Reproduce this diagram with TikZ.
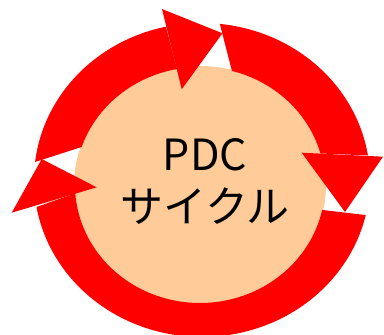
\documentclass[tikz,border=0pt]{standalone}
\usepackage{fontspec}
\newfontfamily\jpfont{Noto Sans CJK JP}
\definecolor{ringred}{RGB}{255,0,0}
\definecolor{peach}{RGB}{255,204,153}
\begin{document}
\begin{tikzpicture}[x=1pt,y=-1pt,
  redpart/.style={fill=ringred},
  label/.style={align=center,text=black,font=\jpfont\fontsize{43}{52}\selectfont,inner sep=0pt}]
\useasboundingbox (0,0) rectangle (384,335);
% inner disc
\fill[peach] (200,185) ellipse [x radius=126pt, y radius=119pt];
% arc A (upper left)
\fill[redpart] plot[domain=186.6:257.6, samples=60] ({202+168*cos(\x)},{180+157*sin(\x)})
  -- plot[domain=259.4:198.8, samples=60] ({200+125*cos(\x)},{185+118*sin(\x)}) -- cycle;
\fill[redpart] (162,9) -- (222.5,33.3) -- (181.7,89.3) -- cycle;
% arc B (upper right)
\fill[redpart] plot[domain=276.1:351, samples=60] ({202+168*cos(\x)},{180+157*sin(\x)})
  -- plot[domain=344.5:284.8, samples=60] ({200+125*cos(\x)},{185+118*sin(\x)}) -- cycle;
\fill[redpart] (301.7,152.7) -- (383,156.7) -- (345,212) -- cycle;
% arc C (bottom)
\fill[redpart] plot[domain=12.9:170.1, samples=80] ({202+168*cos(\x)},{180+157*sin(\x)})
  -- plot[domain=176:12.2, samples=80] ({200+125*cos(\x)},{185+118*sin(\x)}) -- cycle;
\fill[redpart] (11.7,212.7) -- (96.7,187.3) -- (41.7,159) -- cycle;
% text
\node[label] (title) at (205,181) {PDC\\サイクル};
\end{tikzpicture}
\end{document}
